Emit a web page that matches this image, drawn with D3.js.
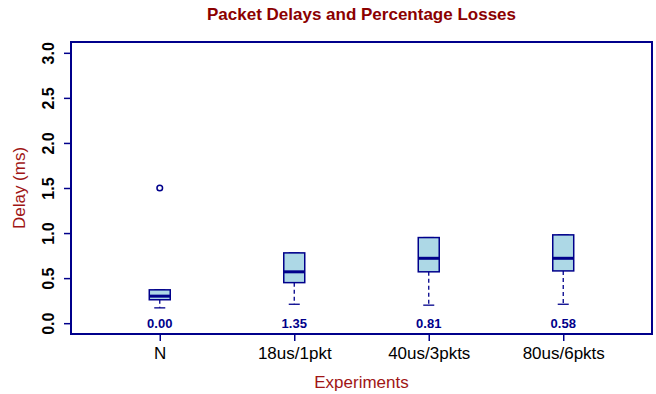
<!DOCTYPE html>
<html>
<head>
<meta charset="utf-8">
<script src="https://cdn.jsdelivr.net/npm/d3@7"></script>
<style>
  html, body { margin: 0; padding: 0; background: #ffffff; }
  svg { display: block; }
  text { font-family: "Liberation Sans", Arial, Helvetica, sans-serif; }
</style>
</head>
<body>
<script>
// ---- Data ----
const categories = ["N", "18us/1pkt", "40us/3pkts", "80us/6pkts"];
const lowerWhisker = [0.17, 0.21, 0.20, 0.21];
const q1 = [0.26, 0.45, 0.57, 0.58];
const medians = [0.30, 0.57, 0.72, 0.72];
const q3 = [0.37, 0.78, 0.95, 0.98];
const upperWhisker = [0.37, 0.78, 0.95, 0.98];
const outliers = [[1.5], [], [], []];
const losses = ["0.00", "1.35", "0.81", "0.58"];
const yTicks = [0, 0.5, 1, 1.5, 2, 2.5, 3];
const yTickLabels = ["0.0", "0.5", "1.0", "1.5", "2.0", "2.5", "3.0"];

const W = 656, H = 394;
const mLeft = 71, mRight = 652, mTop = 42, mBottom = 334;
const navy = "#00008B";
const titleRed = "#8B0000";
const labelRed = "#A01515";

const svg = d3.select("body").append("svg").attr("width", W).attr("height", H);

const x = d3.scaleLinear().domain([0.34, 4.66]).range([mLeft, mRight]);
const y = d3.scaleLinear().domain([-0.12, 3.12]).range([mBottom, mTop]);

const groups = categories.map((c, i) => ({
  cat: c, pos: i + 1, lo: lowerWhisker[i], q1: q1[i], med: medians[i],
  q3: q3[i], hi: upperWhisker[i], out: outliers[i], loss: losses[i]
}));

const boxHalf = 0.078, capHalf = 0.041;

// Y axis
const yAxis = d3.axisLeft(y).tickValues(yTicks).tickSize(7).tickFormat("");
const gy = svg.append("g").attr("transform", `translate(${mLeft},0)`).call(yAxis);
gy.select(".domain").remove();
gy.selectAll(".tick line").attr("stroke", navy).attr("stroke-width", 1.5);
gy.selectAll(".tick").append("text")
  .attr("transform", "rotate(-90)")
  .attr("x", 0).attr("y", -17)
  .attr("text-anchor", "middle")
  .attr("fill", "#000").attr("font-size", 16).attr("font-weight", "bold")
  .text((d, i) => yTickLabels[i]);

// X axis
const xAxis = d3.axisBottom(x).tickValues(groups.map(g => g.pos)).tickSize(7).tickFormat("");
const gx = svg.append("g").attr("transform", `translate(0,${mBottom})`).call(xAxis);
gx.select(".domain").remove();
gx.selectAll(".tick line").attr("stroke", navy).attr("stroke-width", 1.5);
gx.selectAll(".tick").append("text")
  .attr("y", 25).attr("text-anchor", "middle")
  .attr("fill", "#000").attr("font-size", 17)
  .text((d, i) => categories[i]);

// Frame
svg.append("rect")
  .attr("x", mLeft).attr("y", mTop)
  .attr("width", mRight - mLeft).attr("height", mBottom - mTop)
  .attr("fill", "none").attr("stroke", navy).attr("stroke-width", 2);

// Boxes
const bg = svg.append("g").selectAll("g").data(groups).join("g");

bg.append("line")
  .attr("x1", d => x(d.pos)).attr("x2", d => x(d.pos))
  .attr("y1", d => y(d.q1)).attr("y2", d => y(d.lo))
  .attr("stroke", navy).attr("stroke-width", 1.3).attr("stroke-dasharray", "4,3");
bg.append("line")
  .attr("x1", d => x(d.pos)).attr("x2", d => x(d.pos))
  .attr("y1", d => y(d.q3)).attr("y2", d => y(d.hi))
  .attr("stroke", navy).attr("stroke-width", 1.3).attr("stroke-dasharray", "4,3");
bg.append("line")
  .attr("x1", d => x(d.pos - capHalf)).attr("x2", d => x(d.pos + capHalf))
  .attr("y1", d => y(d.lo)).attr("y2", d => y(d.lo))
  .attr("stroke", navy).attr("stroke-width", 1.3);
bg.append("line")
  .attr("x1", d => x(d.pos - capHalf)).attr("x2", d => x(d.pos + capHalf))
  .attr("y1", d => y(d.hi)).attr("y2", d => y(d.hi))
  .attr("stroke", navy).attr("stroke-width", 1.3);
bg.append("rect")
  .attr("x", d => x(d.pos - boxHalf)).attr("width", d => x(d.pos + boxHalf) - x(d.pos - boxHalf))
  .attr("y", d => y(d.q3)).attr("height", d => y(d.q1) - y(d.q3))
  .attr("fill", "#ADD8E6").attr("stroke", navy).attr("stroke-width", 1.5);
bg.append("line")
  .attr("x1", d => x(d.pos - boxHalf)).attr("x2", d => x(d.pos + boxHalf))
  .attr("y1", d => y(d.med)).attr("y2", d => y(d.med))
  .attr("stroke", navy).attr("stroke-width", 3);
bg.selectAll("circle").data(d => d.out.map(v => ({pos: d.pos, v}))).join("circle")
  .attr("cx", d => x(d.pos)).attr("cy", d => y(d.v)).attr("r", 2.8)
  .attr("fill", "none").attr("stroke", navy).attr("stroke-width", 1.5);
bg.append("text")
  .attr("x", d => x(d.pos)).attr("y", y(0) + 4.7)
  .attr("text-anchor", "middle")
  .attr("fill", navy).attr("font-size", 13).attr("font-weight", "bold")
  .text(d => d.loss);

// Titles
svg.append("text")
  .attr("x", (mLeft + mRight) / 2).attr("y", 20)
  .attr("text-anchor", "middle").attr("fill", titleRed)
  .attr("font-size", 17).attr("font-weight", "bold")
  .text("Packet Delays and Percentage Losses");
svg.append("text")
  .attr("x", (mLeft + mRight) / 2).attr("y", 388)
  .attr("text-anchor", "middle").attr("fill", labelRed)
  .attr("font-size", 17)
  .text("Experiments");
svg.append("text")
  .attr("transform", `translate(25,${(mTop + mBottom) / 2}) rotate(-90)`)
  .attr("text-anchor", "middle").attr("fill", labelRed)
  .attr("font-size", 17)
  .text("Delay (ms)");
</script>
</body>
</html>
